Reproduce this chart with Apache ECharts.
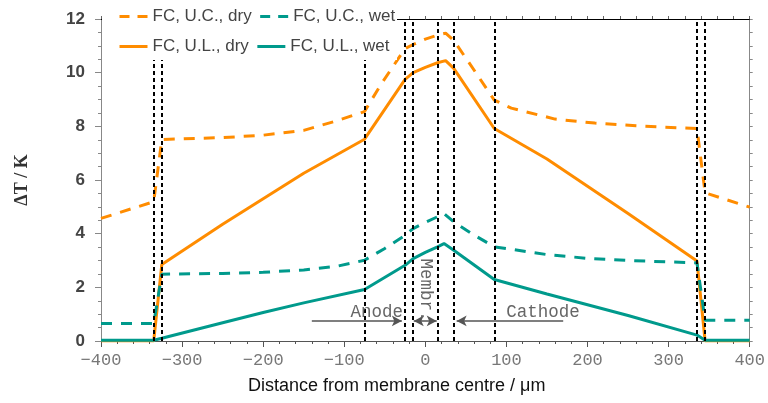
<!DOCTYPE html>
<html>
<head>
<meta charset="utf-8">
<script src="https://cdn.jsdelivr.net/npm/echarts@6/dist/echarts.min.js"></script>
<style>
  html, body { margin: 0; padding: 0; background: #fff; }
  #chart { width: 768px; height: 403px; }
</style>
</head>
<body>
<div id="chart"></div>
<script>
// temperature rise vs distance from membrane centre
const ucDryX = [-400, -335, -325, -250, -200, -150, -110, -75, -55, -25, -15, 0, 15, 25, 35, 60, 85, 106, 160, 209, 260, 295, 335, 345, 400];
const ucDryY = [4.57, 5.19, 7.51, 7.58, 7.67, 7.85, 8.2, 8.55, 9.55, 10.9, 11.05, 11.25, 11.4, 11.47, 11.2, 10.1, 8.98, 8.68, 8.27, 8.12, 8.02, 7.97, 7.92, 5.52, 4.99];

const ucWetX = [-400, -335, -325, -250, -200, -150, -110, -75, -50, -25, -15, 0, 15, 23, 35, 60, 85, 150, 200, 250, 335, 345, 400];
const ucWetY = [0.65, 0.65, 2.49, 2.52, 2.56, 2.65, 2.78, 3.01, 3.45, 3.94, 4.19, 4.42, 4.63, 4.75, 4.44, 3.95, 3.51, 3.22, 3.08, 3.0, 2.91, 0.77, 0.77];

const ulDryX = [-400, -335, -325, -250, -200, -150, -75, -25, -15, 0, 15, 25, 35, 85, 150, 250, 335, 345, 400];
const ulDryY = [0, 0, 2.85, 4.35, 5.3, 6.25, 7.52, 9.75, 10.0, 10.2, 10.37, 10.45, 10.16, 7.92, 6.78, 4.75, 2.98, 0, 0];

const ulWetX = [-400, -335, -325, -250, -200, -150, -75, -25, -15, 0, 15, 23, 35, 85, 150, 250, 335, 345, 400];
const ulWetY = [0.03, 0.03, 0.1, 0.68, 1.06, 1.42, 1.92, 2.82, 3.07, 3.3, 3.51, 3.63, 3.38, 2.29, 1.75, 0.95, 0.22, 0.03, 0.03];

// layer boundaries (dashed verticals)
const dividers = [-335, -325, -75, -25, -15, 15, 35, 85, 335, 345];

// region labels and arrows
const regionNames = ['Anode', 'Membr.', 'Cathode'];
const regionX = [-60, 0.5, 145];
const regionY = [1.07, 1.9, 1.07];
const arrowFrom = [-140, 170];
const arrowTo = [-29, 38.6];
const arrowY = 0.75;
const membrArrow = [-14.3, 14];

const orange = '#ff8c00';
const teal = '#009a8c';
const mono = '"Liberation Mono", "DejaVu Sans Mono", monospace';
const sans = '"Liberation Sans", Arial, sans-serif';

const pairs = (xs, ys) => xs.map((x, i) => [x, ys[i]]);

const chart = echarts.init(document.getElementById('chart'));

const curve = (name, xs, ys, color, dashed) => ({
  name,
  type: 'line',
  data: pairs(xs, ys),
  showSymbol: false,
  symbol: 'none',
  lineStyle: { color, width: 3, type: dashed ? [11, 9] : 'solid' },
  itemStyle: { color },
  emphasis: { disabled: true },
  z: 3
});

const legendItem = (name, dashed) => ({
  name,
  itemStyle: { opacity: 0 },
  lineStyle: { width: 3, type: dashed ? [10, 8] : 'solid' }
});

const legendBase = {
  left: 113, itemWidth: 28, itemHeight: 14, itemGap: 7, z: 60,
  textStyle: { fontFamily: sans, fontSize: 17, color: '#444' }
};

const option = {
  animation: false,
  grid: { left: 101, right: 16, top: 19, bottom: 62 },
  legend: [
    Object.assign({ top: 3, data: [legendItem('FC, U.C., dry', true), legendItem('FC, U.C., wet', true)] }, legendBase),
    Object.assign({ top: 33, data: [legendItem('FC, U.L., dry', false), legendItem('FC, U.L., wet', false)] }, legendBase)
  ],
  xAxis: [
    {
      type: 'value', min: -400, max: 400, interval: 100,
      axisLine: { lineStyle: { color: '#555', width: 1 } },
      axisTick: { length: 6, lineStyle: { color: '#555' } },
      minorTick: { show: true, splitNumber: 5, length: 3, lineStyle: { color: '#555' } },
      splitLine: { show: false },
      axisLabel: {
        margin: 11, fontFamily: mono, fontSize: 17, color: '#777',
        formatter: v => String(v).replace('-', '\u2212')
      }
    },
    {
      type: 'value', position: 'top', min: -400, max: 400, interval: 20,
      axisLine: { show: true, onZero: false, lineStyle: { color: '#000' } },
      axisTick: { show: true, length: 3, lineStyle: { color: '#666' } },
      axisLabel: { show: false },
      splitLine: { show: false }
    }
  ],
  yAxis: [
    {
      type: 'value', min: 0, max: 12, interval: 2,
      name: '\u0394T / K', nameLocation: 'middle', nameGap: 70, nameRotate: 90,
      nameTextStyle: { fontFamily: '"Liberation Serif", "Times New Roman", serif', fontWeight: 'bold', fontSize: 18, color: '#333' },
      axisLine: { show: true, onZero: false, lineStyle: { color: '#888' } },
      axisTick: { show: true, length: 6, lineStyle: { color: '#888' } },
      minorTick: { show: true, splitNumber: 4, length: 3, lineStyle: { color: '#888' } },
      splitLine: { show: false },
      axisLabel: { margin: 16, fontFamily: sans, fontWeight: 'bold', fontSize: 17, color: '#444' }
    },
    {
      type: 'value', position: 'right', min: 0, max: 12, interval: 0.5,
      axisLine: { show: true, onZero: false, lineStyle: { color: '#888' } },
      axisTick: { show: true, length: 3, lineStyle: { color: '#888' } },
      axisLabel: { show: false },
      splitLine: { show: false }
    }
  ],
  graphic: [
    // white box behind the legend, it covers the frame and the boundary lines
    { type: 'rect', left: 102, top: 0, z: 50, shape: { width: 295, height: 60 }, style: { fill: '#fff' } },
    {
      type: 'text', left: 248, top: 377,
      style: { text: 'Distance from membrane centre / \u03bcm', font: '18px "Liberation Sans", Arial, sans-serif', fill: '#111' }
    }
  ],
  series: [
    curve('FC, U.L., dry', ulDryX, ulDryY, orange, false),
    curve('FC, U.C., dry', ucDryX, ucDryY, orange, true),
    curve('FC, U.C., wet', ucWetX, ucWetY, teal, true),
    curve('FC, U.L., wet', ulWetX, ulWetY, teal, false),
    {
      name: 'dividers', type: 'line', data: [], z: 4,
      markLine: {
        silent: true, symbol: ['none', 'none'], label: { show: false },
        lineStyle: { color: '#000', width: 2, type: [4, 3] },
        data: dividers.map(x => [{ coord: [x, 0] }, { coord: [x, 12] }])
      }
    },
    {
      name: 'arrows', type: 'line', data: [], z: 5,
      markLine: {
        silent: true, symbol: ['none', 'arrow'], symbolSize: [8, 10], label: { show: false },
        lineStyle: { color: '#555', width: 1.5, type: 'solid' },
        data: arrowFrom.map((x, i) => [{ coord: [x, arrowY] }, { coord: [arrowTo[i], arrowY] }])
      },
      markPoint: {
        silent: true, symbol: 'rect', symbolSize: 1, itemStyle: { color: 'rgba(0,0,0,0)' },
        label: { show: true, position: 'inside', formatter: '{b}', fontFamily: mono, fontSize: 17.5, color: '#666' },
        data: regionNames.map((n, i) => ({
          name: n, coord: [regionX[i], regionY[i]],
          label: n === 'Membr.' ? { rotate: -90 } : {}
        }))
      }
    },
    {
      name: 'membrArrow', type: 'line', data: [], z: 5,
      markLine: {
        silent: true, symbol: ['arrow', 'arrow'], symbolSize: [8, 10], label: { show: false },
        lineStyle: { color: '#555', width: 1.5, type: 'solid' },
        data: [[{ coord: [membrArrow[0], arrowY] }, { coord: [membrArrow[1], arrowY] }]]
      }
    }
  ]
};

chart.setOption(option);
</script>
</body>
</html>
